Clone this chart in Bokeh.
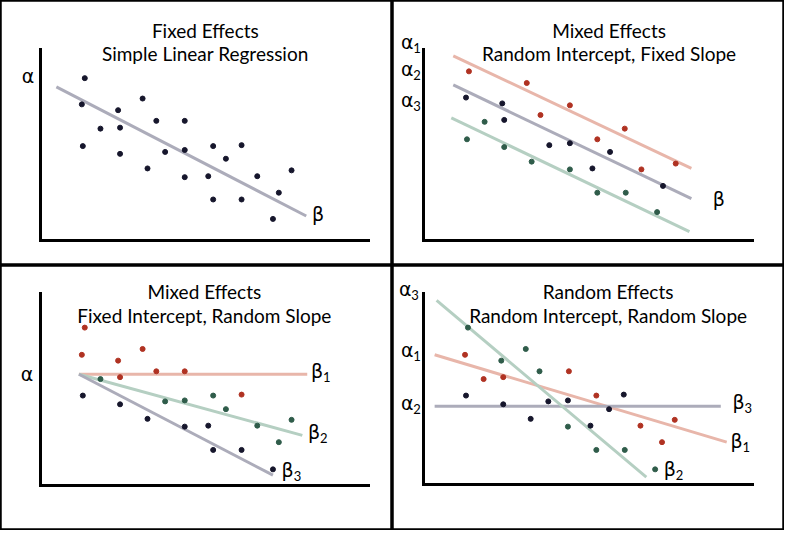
from bokeh.plotting import figure
from bokeh.models import Range1d, LinearAxis, FixedTicker
from bokeh.layouts import gridplot
from bokeh.core.properties import value
from bokeh.embed import file_html
from bokeh.resources import INLINE

# ---------------- data (units: axis-relative) ----------------
# Panel 1: Fixed Effects
p1_x = [45, 42, 43, 61, 79, 81, 81, 104, 109, 118, 127, 147, 147, 147, 171, 176, 176, 189, 205, 205, 221, 243, 237, 256]
p1_y = [167, 140, 97, 115, 134, 116, 89, 146, 74, 123, 91, 123, 93, 65, 66, 97, 42, 84, 98, 42, 66, 49, 22, 72]
p1_line_x = [16, 271]
p1_line_y = [158, 25]

# Panel 2: Random intercept, fixed slope
p2_red_x = [46, 105, 119, 149, 177, 205, 222, 257]
p2_red_y = [174, 162, 129, 139, 104, 115, 73, 79]
p2_dark_x = [43, 80, 82, 128, 149, 172, 190, 244]
p2_dark_y = [147, 141, 124, 98, 100, 74, 91, 56]
p2_green_x = [44, 62, 82, 110, 149, 177, 206, 238]
p2_green_y = [104, 122, 96, 81, 73, 49, 49, 29]
p2_lines_x0 = [30, 30, 28]
p2_lines_y0 = [190, 160, 126]
p2_lines_x1 = [273, 273, 271]
p2_lines_y1 = [74, 43, 9]

# Panel 3: Fixed intercept, random slope
p3_red_x = [45, 42, 79, 81, 104, 118, 147, 205]
p3_red_y = [163, 135, 129, 112, 141, 118, 118, 94]
p3_dark_x = [43, 81, 109, 147, 171, 176, 205, 237]
p3_dark_y = [93, 84, 69, 61, 62, 37, 37, 17]
p3_green_x = [61, 127, 147, 176, 189, 221, 243, 256]
p3_green_y = [110, 87, 88, 93, 79, 62, 45, 68]
p3_lines_x0 = [39, 39, 39]
p3_lines_y0 = [115, 115, 115]
p3_lines_x1 = [272, 267, 237]
p3_lines_y1 = [115, 52, 11]

# Panel 4: Random intercept, random slope
p4_red_x = [42, 61, 81, 148, 176, 221, 243, 256]
p4_red_y = [134, 109, 111, 117, 92, 61, 44, 67]
p4_dark_x = [43, 81, 109, 127, 147, 170, 189, 204]
p4_dark_y = [92, 83, 68, 86, 87, 61, 78, 93]
p4_green_x = [45, 79, 104, 118, 147, 176, 205, 236]
p4_green_y = [162, 128, 140, 117, 60, 36, 36, 16]
p4_lines_x0 = [11, 11, 13]
p4_lines_y0 = [134, 81, 190]
p4_lines_x1 = [309, 303, 227]
p4_lines_y1 = [44, 81, 8]

# titles
titles = [
    ("Fixed Effects", "Simple Linear Regression"),
    ("Mixed Effects", "Random Intercept, Fixed Slope"),
    ("Mixed Effects", "Fixed Intercept, Random Slope"),
    ("Random Effects", "Random Intercept, Random Slope"),
]
title_x = [168, 189, 167, 188]
title_y1 = [216, 216, 200, 199]
title_y2 = [192, 192, 176, 175]

# symbol labels: (symbol, subscript, x, y)
p1_labels = [("α", "", -13, 169), ("β", "", 283, 27)]
p2_labels = [("α", "1", -17, 204), ("α", "2", -17, 176), ("α", "3", -17, 145), ("β", "", 301, 42)]
p3_labels = [("α", "", -14, 115), ("β", "1", 282, 118), ("β", "2", 279, 55), ("β", "3", 252, 16)]
p4_labels = [("α", "3", -19, 202), ("α", "1", -17, 139), ("α", "2", -17, 84),
             ("β", "3", 321, 85), ("β", "1", 319, 45), ("β", "2", 251, 16)]

# axis geometry: (x range, y range, vertical axis length, horizontal axis length)
ranges = [((-41, 359), (-26, 247), 197, 334),
          ((-32, 368), (-26, 247), 197, 335),
          ((-41, 359), (-46, 227), 198, 334),
          ((-32, 368), (-47, 226), 197, 335)]

# ---------------- style ----------------
FONT = "Lato"
RED_DOT, DARK_DOT, GREEN_DOT = "#b03222", "#16162c", "#2f5c4a"
RED_LINE, GRAY_LINE, GREEN_LINE = "#e8b6aa", "#acacba", "#b5cfc2"
W, H = 392, 265


def make_panel(i):
    (xr, yr, vlen, hlen) = ranges[i]
    p = figure(width=W, height=H, x_range=Range1d(*xr), y_range=Range1d(*yr),
               x_axis_type=None, y_axis_type=None, output_backend="svg",
               toolbar_location=None, min_border=0)
    p.outline_line_color = "black"
    p.outline_line_width = 2.5
    p.background_fill_color = "white"
    p.border_fill_color = "white"
    for side, ln in (("left", vlen), ("below", hlen)):
        ax = LinearAxis(fixed_location=0, bounds=(0, ln), ticker=FixedTicker(ticks=[]),
                        axis_line_width=3, axis_line_color="black", axis_line_cap="square",
                        major_tick_out=0, major_tick_in=0, minor_tick_out=0, minor_tick_in=0,
                        major_label_standoff=0, major_label_text_font_size="0px")
        p.add_layout(ax, side)
    t = titles[i]
    p.text(x=[title_x[i], title_x[i]], y=[title_y1[i], title_y2[i]], text=[t[0], t[1]],
           text_font=value(FONT), text_font_size="19px", text_color="black",
           text_align="center", text_baseline="middle")
    return p


def add_labels(p, labels):
    sym = [l[0] for l in labels]
    sub = [l[1] for l in labels]
    lx = [l[2] for l in labels]
    ly = [l[3] for l in labels]
    p.text(x=lx, y=ly, text=sym, text_font=value("DejaVu Sans"), text_font_size="19px",
           text_color="black", text_align="center", text_baseline="middle")
    p.text(x=lx, y=ly, text=sub, text_font=value(FONT), text_font_size="13px",
           text_color="black", text_align="left", text_baseline="middle",
           x_offset=6, y_offset=6)


def dots(p, x, y, c):
    p.scatter(x=x, y=y, size=5, fill_color=c, line_color=c)


line_cols = [RED_LINE, GRAY_LINE, GREEN_LINE]

# panel 1
p1 = make_panel(0)
p1.line(p1_line_x, p1_line_y, line_color=GRAY_LINE, line_width=3)
dots(p1, p1_x, p1_y, DARK_DOT)
add_labels(p1, p1_labels)

# panel 2
p2 = make_panel(1)
p2.segment(x0=p2_lines_x0, y0=p2_lines_y0, x1=p2_lines_x1, y1=p2_lines_y1,
           line_color=line_cols, line_width=3)
dots(p2, p2_red_x, p2_red_y, RED_DOT)
dots(p2, p2_dark_x, p2_dark_y, DARK_DOT)
dots(p2, p2_green_x, p2_green_y, GREEN_DOT)
add_labels(p2, p2_labels)

# panel 3
p3 = make_panel(2)
p3.segment(x0=p3_lines_x0, y0=p3_lines_y0, x1=p3_lines_x1, y1=p3_lines_y1,
           line_color=[RED_LINE, GREEN_LINE, GRAY_LINE], line_width=3)
dots(p3, p3_red_x, p3_red_y, RED_DOT)
dots(p3, p3_dark_x, p3_dark_y, DARK_DOT)
dots(p3, p3_green_x, p3_green_y, GREEN_DOT)
add_labels(p3, p3_labels)

# panel 4
p4 = make_panel(3)
p4.segment(x0=p4_lines_x0, y0=p4_lines_y0, x1=p4_lines_x1, y1=p4_lines_y1,
           line_color=[RED_LINE, GRAY_LINE, GREEN_LINE], line_width=3)
dots(p4, p4_red_x, p4_red_y, RED_DOT)
dots(p4, p4_dark_x, p4_dark_y, DARK_DOT)
dots(p4, p4_green_x, p4_green_y, GREEN_DOT)
add_labels(p4, p4_labels)

grid = gridplot([[p1, p2], [p3, p4]], toolbar_location=None)

open("out.html", "w").write(file_html(grid, INLINE))
